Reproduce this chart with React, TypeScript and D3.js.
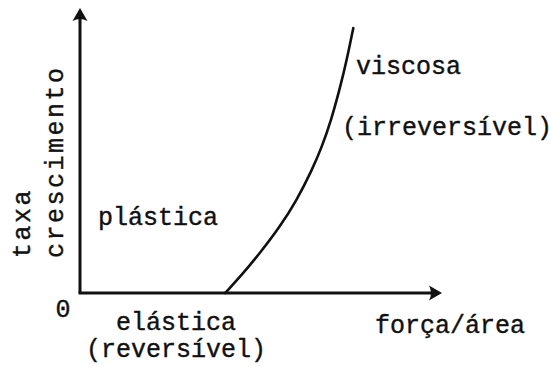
import React from "react";
import * as d3 from "d3";

// Growth-rate curve vs. force per area (arbitrary units)
const forceValues = [4.01, 4.42, 4.97, 5.52, 5.99, 6.41, 6.68, 6.94, 7.19, 7.37, 7.55];
const growthValues = [0, 0.56, 1.4, 2.32, 3.26, 4.32, 5.12, 6.07, 7.23, 8.18, 9.3];

const yTitleLines = ["taxa", "crescimento"];
const xTitle = "força/área";
const originLabel = "0";
const regionPlastic = "plástica";
const regionViscousLines = ["viscosa", "(irreversível)"];
const regionElasticLines = ["elástica", "(reversível)"];

const W = 551;
const H = 366;
const FONT = "'Liberation Mono', 'DejaVu Sans Mono', monospace";
const INK = "#111";

export default function App() {
  const x = d3.scaleLinear().domain([0, 10]).range([80, 442]);
  const y = d3.scaleLinear().domain([0, 10]).range([293, 8]);

  const pts: [number, number][] = forceValues.map((f, i) => [f, growthValues[i]]);
  const line = d3
    .line<[number, number]>()
    .x((d) => x(d[0]))
    .y((d) => y(d[1]))
    .curve(d3.curveBasis);

  const x0 = x(0);
  const y0 = y(0);
  const xEnd = x(10);
  const yEnd = y(10);

  // arrowheads
  const ah = 13;
  const aw = 7.5;
  const upArrow = `M${x0},${yEnd} L${x0 - aw},${yEnd + ah} Q${x0},${yEnd + ah - 4} ${x0 + aw},${yEnd + ah} Z`;
  const rightArrow = `M${xEnd},${y0} L${xEnd - ah},${y0 - aw} Q${xEnd - ah + 4},${y0} ${xEnd - ah},${y0 + aw} Z`;

  const textStyle = {
    fontFamily: FONT,
    fontSize: 25,
    fill: INK,
    stroke: INK,
    strokeWidth: 0.4,
  } as const;

  return (
    <svg width={W} height={H} style={{ position: "absolute", left: 0, top: 0, background: "#fff" }}>
      <rect width={W} height={H} fill="#fff" />
      {/* axes */}
      <line x1={x0} y1={y0} x2={x0} y2={yEnd + 6} stroke={INK} strokeWidth={3} />
      <line x1={x0 - 1.5} y1={y0} x2={xEnd - 6} y2={y0} stroke={INK} strokeWidth={3} />
      <path d={upArrow} fill={INK} />
      <path d={rightArrow} fill={INK} />

      {/* growth curve */}
      <path d={line(pts) ?? ""} fill="none" stroke={INK} strokeWidth={2.6} strokeLinecap="round" />

      {/* axis labels */}
      <text x={63} y={317} textAnchor="middle" {...textStyle}>{originLabel}</text>
      <text x={375} y={333} {...textStyle}>{xTitle}</text>
      {yTitleLines.map((t, i) => (
        <text
          key={t}
          transform={`translate(${30 + i * 33},${258}) rotate(-90)`}
          letterSpacing={2.5}
          {...textStyle}
        >
          {t}
        </text>
      ))}

      {/* region labels */}
      <text x={98} y={225} {...textStyle}>{regionPlastic}</text>
      <text x={356} y={74} {...textStyle}>{regionViscousLines[0]}</text>
      <text x={342} y={135} {...textStyle}>{regionViscousLines[1]}</text>
      <text x={176} y={330} textAnchor="middle" {...textStyle}>{regionElasticLines[0]}</text>
      <text x={176} y={357} textAnchor="middle" {...textStyle}>{regionElasticLines[1]}</text>
    </svg>
  );
}
